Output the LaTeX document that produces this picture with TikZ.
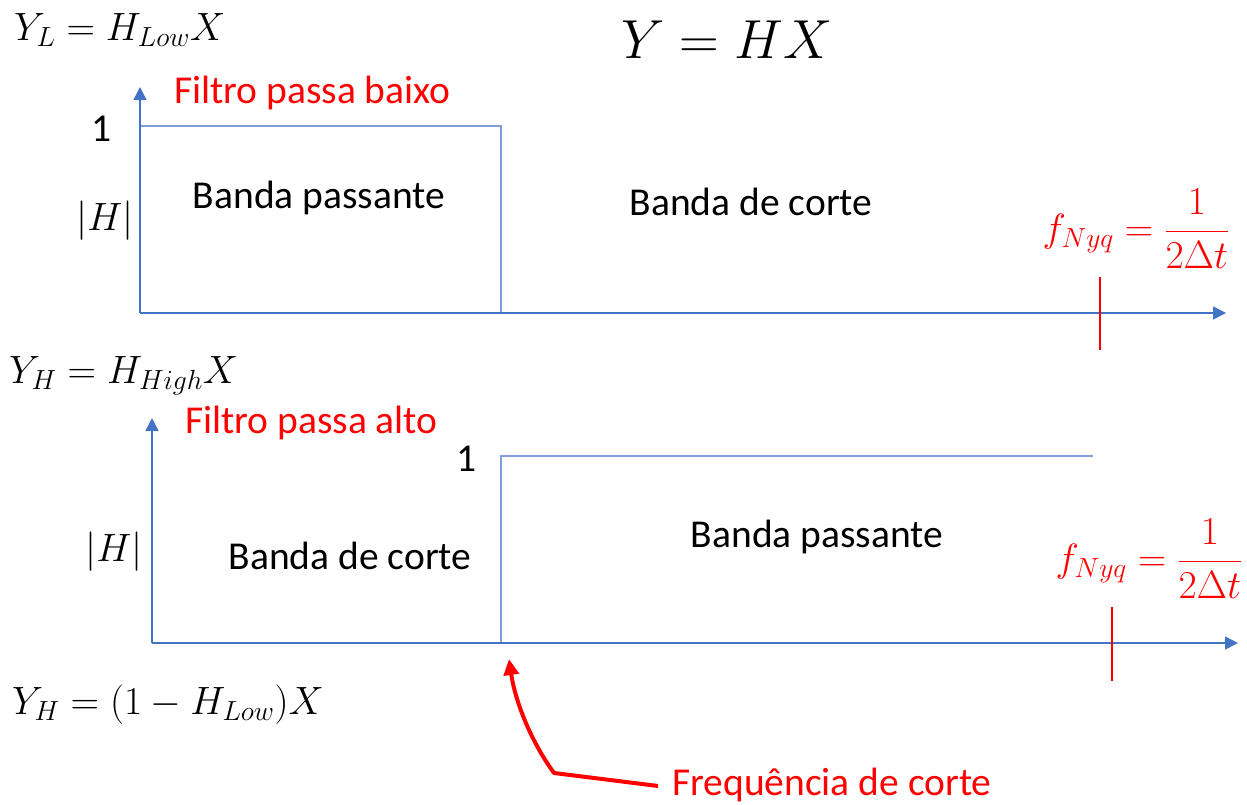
\RequirePackage{fix-cm}
\documentclass[tikz,border=0pt]{standalone}
\usepackage{fontspec}
\setmainfont{Carlito}
\usetikzlibrary{arrows.meta}
\definecolor{axblue}{HTML}{4472C4}
\definecolor{boxblue}{HTML}{7F9FD8}
\begin{document}
\begin{tikzpicture}[x=1pt,y=-1pt,
  txt/.style={font=\fontsize{39.5}{46}\selectfont, inner sep=0pt},
  rtxt/.style={txt, text=red},
  axis/.style={draw=axblue, line width=1.5pt, -{Triangle[length=13pt,width=13pt]}},
  boxl/.style={draw=boxblue, line width=1.3pt},
  nyq/.style={draw=red, line width=1.3pt},
  callout/.style={draw=red, line width=4pt, line join=round, -{Triangle[length=16pt,width=15pt]}}]
\useasboundingbox (0,0) rectangle (1247,804);

% ---------- top plot ----------
\coordinate (o1) at (140,313);
\coordinate (y1) at (140,87);
\coordinate (x1) at (1226,313);
\coordinate (b1a) at (140,126);
\coordinate (b1b) at (501,126);
\coordinate (b1c) at (501,313);
\coordinate (n1a) at (1100,277);
\coordinate (n1b) at (1100,350);
\draw[boxl] (b1a) -- (b1b) -- (b1c);
\draw[axis] (o1) -- (y1);
\draw[axis] (o1) -- (x1);
\draw[nyq] (n1a) -- (n1b);

\node[txt, anchor=west] (yl) at (14,30) {$Y_L = H_{Low}X$};
\node[font=\fontsize{55}{62}\selectfont, inner sep=0pt] (yhx) at (727,40) {$Y = HX$};
\node[rtxt, anchor=west] (fpb) at (174,93) {Filtro passa baixo};
\node[txt] (one1) at (102,129) {1};
\node[txt] (h1) at (105,221) {$|H|$};
\node[txt] (bp1) at (319,198) {Banda passante};
\node[txt] (bc1) at (751,202) {Banda de corte};
\node[txt, text=red] (fn1) at (1136,229) {$f_{Nyq} = \displaystyle\frac{1}{2\Delta t}$};

% ---------- bottom plot ----------
\coordinate (o2) at (152,643);
\coordinate (y2) at (152,418);
\coordinate (x2) at (1238,643);
\coordinate (b2a) at (501,643);
\coordinate (b2b) at (501,456);
\coordinate (b2c) at (1093,456);
\coordinate (n2a) at (1112,607);
\coordinate (n2b) at (1112,681);
\draw[boxl] (b2a) -- (b2b) -- (b2c);
\draw[axis] (o2) -- (y2);
\draw[axis] (o2) -- (x2);
\draw[nyq] (n2a) -- (n2b);

\node[txt, anchor=west] (yh) at (9,376) {$Y_H = H_{High}X$};
\node[rtxt, anchor=west] (fpa) at (185,423) {Filtro passa alto};
\node[txt] (one2) at (467,459) {1};
\node[txt] (h2) at (114,552) {$|H|$};
\node[txt] (bc2) at (350,556) {Banda de corte};
\node[txt] (bp2) at (817,537) {Banda passante};
\node[txt, text=red] (fn2) at (1149,559) {$f_{Nyq} = \displaystyle\frac{1}{2\Delta t}$};

\node[txt, anchor=west] (yh2) at (12,705) {$Y_H = (1 - H_{Low})X$};

% ---------- callout ----------
\node[rtxt, anchor=west] (fc) at (672,785) {Frequência de corte};
\coordinate (fcs) at (658,786);
\coordinate (fck) at (554,773);
\coordinate (fct) at (509,659);
\draw[callout] (fcs) -- (fck) .. controls (530,740) and (515,700) .. (fct);
\end{tikzpicture}
\end{document}
